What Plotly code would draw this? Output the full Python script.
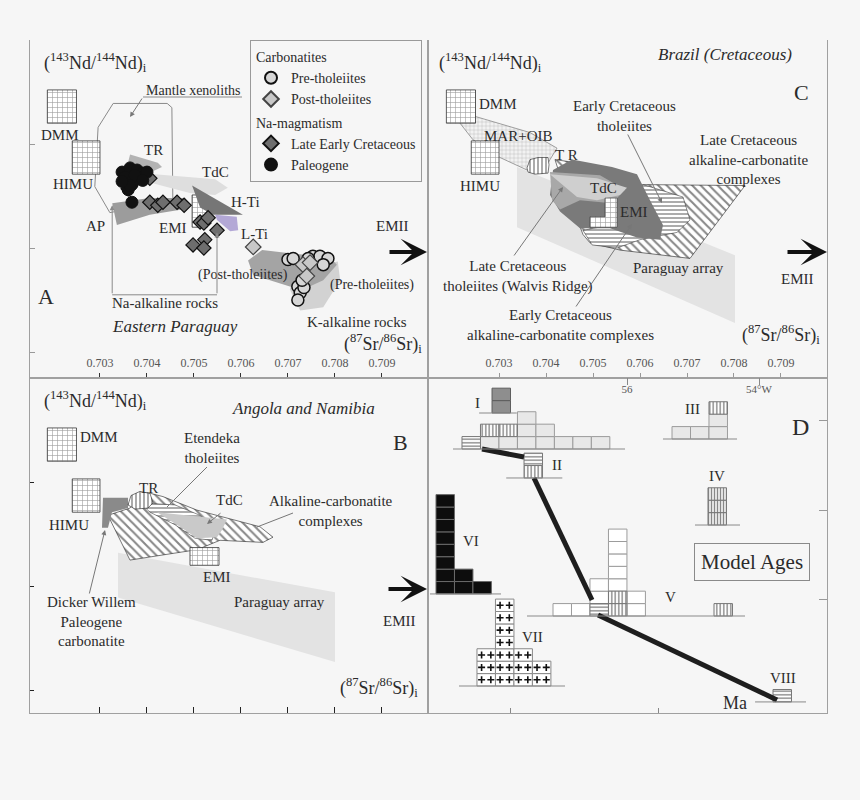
import plotly.graph_objects as go

W, H = 860, 800
SERIF = "Liberation Serif"
BG = "#f6f6f6"
INK = "#2b2b2b"

# ---------------- axis ticks ----------------
sr_ticks = [0.703, 0.704, 0.705, 0.706, 0.707, 0.708, 0.709]
sr_labels = ["0.703", "0.704", "0.705", "0.706", "0.707", "0.708", "0.709"]
nd_ticks = [0.5128, 0.5127, 0.5126]
lon_ticks = [56, 54]
lon_labels = ["56", "54°W"]
lon_minor = [57.76, 55.53]
lat_ticks = [-24, -25, -26]

# ---------------- end-member boxes (Sr range, Nd range) ----------------
dmm_sr = [0.70188, 0.70250]
dmm_nd = [0.512820, 0.512852]
himu_sr = [0.70241, 0.70300]
himu_nd = [0.512771, 0.512803]

# ---------------- Panel A : Eastern Paraguay ----------------
a_emi_sr = [0.70496, 0.70528]
a_emi_nd = [0.512720, 0.512751]
a_xeno_sr = [0.70296, 0.70328, 0.70443, 0.70453, 0.70455, 0.70321, 0.70289]
a_xeno_nd = [0.512816, 0.512839, 0.512839, 0.512835, 0.512746, 0.512734, 0.512759]
a_tr_sr = [0.70364, 0.70423, 0.70432, 0.70385, 0.70357]
a_tr_nd = [0.512790, 0.512782, 0.512778, 0.512768, 0.512777]
a_tdc_sr = [0.70385, 0.70545, 0.70572, 0.70545, 0.70491, 0.70406]
a_tdc_nd = [0.512772, 0.512766, 0.512758, 0.512751, 0.512753, 0.512763]
a_hti_sr = [0.70496, 0.70604, 0.70540, 0.70513]
a_hti_nd = [0.512760, 0.512732, 0.512732, 0.512739]
a_lti_sr = [0.70545, 0.70591, 0.70594, 0.70577, 0.70549]
a_lti_nd = [0.512732, 0.512730, 0.512717, 0.512716, 0.512727]
a_ap_sr = [0.70326, 0.70406, 0.70481, 0.70487, 0.70406, 0.70336]
a_ap_nd = [0.512743, 0.512748, 0.512748, 0.512738, 0.512732, 0.512722]
a_kdark_sr = [0.70615, 0.70645, 0.70704, 0.70789, 0.70804, 0.70775, 0.70732, 0.70704, 0.70626]
a_kdark_nd = [0.512688, 0.512698, 0.512695, 0.512691, 0.512684, 0.512669, 0.512660, 0.512663, 0.512674]
a_klight_sr = [0.70715, 0.70806, 0.70811, 0.70775, 0.70726, 0.70704]
a_klight_nd = [0.512679, 0.512687, 0.512669, 0.512643, 0.512640, 0.512660]
na_bracket_sr = [0.70326, 0.70549]
na_bracket_top = [0.512741, 0.512715]
na_bracket_base = 0.512655

pre_sr = [0.70700, 0.70711, 0.70753, 0.70768, 0.70785, 0.70775, 0.70743, 0.70721, 0.70726, 0.70721, 0.70734, 0.70730]
pre_nd = [0.512689, 0.512690, 0.512692, 0.512692, 0.512690, 0.512684, 0.512690, 0.512663, 0.512657, 0.512650, 0.512662, 0.512669]
post_sr = [0.70626, 0.70732, 0.70747, 0.70740]
post_nd = [0.512701, 0.512684, 0.512686, 0.512673]
lec_sr = [0.70406, 0.70360, 0.70406, 0.70423, 0.70434, 0.70464, 0.70479, 0.70513, 0.70521, 0.70530, 0.70549, 0.70498, 0.70523, 0.70521]
lec_nd = [0.512767, 0.512757, 0.512744, 0.512741, 0.512744, 0.512744, 0.512741, 0.512725, 0.512724, 0.512729, 0.512717, 0.512703, 0.512708, 0.512700]
pal_sr = [0.70347, 0.70364, 0.70379, 0.70391, 0.70357, 0.70370, 0.70385, 0.70400, 0.70360, 0.70368, 0.70353, 0.70374, 0.70364, 0.70368, 0.70391, 0.70347]
pal_nd = [0.512773, 0.512777, 0.512775, 0.512772, 0.512765, 0.512763, 0.512768, 0.512773, 0.512756, 0.512761, 0.512768, 0.512770, 0.512760, 0.512744, 0.512765, 0.512764]

# ---------------- Panel C : Brazil (Cretaceous) ----------------
c_mar_sr = [0.702128, 0.702532, 0.703660, 0.704234, 0.704085, 0.703936, 0.703596, 0.703021, 0.702447, 0.702170]
c_mar_nd = [0.512831, 0.512826, 0.512811, 0.512796, 0.512785, 0.512772, 0.512775, 0.512787, 0.512804, 0.512820]
c_tr_sr = [0.703596, 0.703660, 0.703830, 0.704043, 0.704064, 0.704043, 0.703766, 0.703617]
c_tr_nd = [0.512777, 0.512785, 0.512787, 0.512787, 0.512780, 0.512772, 0.512771, 0.512773]
c_par_sr = [0.703383, 0.708021, 0.708021, 0.703383]
c_par_nd = [0.512778, 0.512693, 0.512628, 0.512720]
c_lkc_sr = [0.704191, 0.704936, 0.705362, 0.706000, 0.708234, 0.707064, 0.705574, 0.704936, 0.704787, 0.704298]
c_lkc_nd = [0.512785, 0.512780, 0.512773, 0.512761, 0.512760, 0.512690, 0.512698, 0.512705, 0.512713, 0.512770]
c_ect_sr = [0.706064, 0.706915, 0.707064, 0.706787, 0.706000, 0.705511, 0.704979, 0.704787, 0.705362]
c_ect_nd = [0.512761, 0.512749, 0.512727, 0.512715, 0.512708, 0.512700, 0.512703, 0.512717, 0.512722]
c_eca_sr = [0.704149, 0.704553, 0.705404, 0.705936, 0.706213, 0.706489, 0.706426, 0.705936, 0.705362, 0.704723, 0.704298, 0.704085]
c_eca_nd = [0.512775, 0.512785, 0.512778, 0.512771, 0.512746, 0.512722, 0.512708, 0.512710, 0.512719, 0.512719, 0.512735, 0.512751]
c_wal_sr = [0.704085, 0.705149, 0.705681, 0.705404, 0.704723, 0.704298, 0.704128]
c_wal_nd = [0.512773, 0.512770, 0.512756, 0.512743, 0.512746, 0.512737, 0.512746]
c_tdc_sr = [0.704085, 0.705085, 0.705723, 0.705574, 0.705085, 0.704660]
c_tdc_nd = [0.512771, 0.512767, 0.512758, 0.512751, 0.512746, 0.512749]
c_emi_sr = [0.704936, 0.705255, 0.705255, 0.705511, 0.705511, 0.704936]
c_emi_nd = [0.512730, 0.512730, 0.512748, 0.512748, 0.512720, 0.512720]

# ---------------- Panel B : Angola and Namibia ----------------
b_par_sr = [0.703383, 0.708000, 0.708000, 0.703383]
b_par_nd = [0.512732, 0.512694, 0.512627, 0.512689]
b_alk_sr = [0.703170, 0.703638, 0.704000, 0.704340, 0.705064, 0.705766, 0.706404, 0.706681, 0.706468, 0.705553, 0.705064, 0.703638]
b_alk_nd = [0.512768, 0.512775, 0.512790, 0.512786, 0.512773, 0.512765, 0.512757, 0.512747, 0.512742, 0.512744, 0.512735, 0.512725]
b_ete_sr = [0.703851, 0.704596, 0.705128, 0.705447, 0.705383, 0.705021, 0.704596, 0.704064]
b_ete_nd = [0.512780, 0.512778, 0.512768, 0.512754, 0.512744, 0.512746, 0.512759, 0.512771]
b_tdc_sr = [0.704213, 0.705702, 0.705596, 0.705489, 0.705064, 0.704702]
b_tdc_nd = [0.512771, 0.512764, 0.512754, 0.512747, 0.512746, 0.512757]
b_dw_sr = [0.703064, 0.703596, 0.703596, 0.703255, 0.703170, 0.703043]
b_dw_nd = [0.512785, 0.512785, 0.512775, 0.512771, 0.512756, 0.512756]
b_tr_sr = [0.703596, 0.703660, 0.703851, 0.704064, 0.704128, 0.704021, 0.703745]
b_tr_nd = [0.512778, 0.512787, 0.512791, 0.512789, 0.512780, 0.512775, 0.512774]
b_emi_sr = [0.704915, 0.705532]
b_emi_nd = [0.512720, 0.512737]

# ---------------- Panel D : model-age histograms on map ----------------
hist_names = ["I", "Ia", "II", "III", "IV", "V", "Vb", "VI", "VII", "VIII"]
hist_lon = [58.50, 58.045, 57.56, 55.318, 54.773, 57.121, 54.682, 58.894, 58.273, 53.788]
hist_lat = [-24.322, -23.922, -24.644, -24.211, -25.167, -26.178, -26.178, -25.933, -26.956, -27.133]
hist_I = ["h", "gv", "gv", "ggg", "gg", "g", "g", "g"]
hist_Ia = ["dd"]
hist_II = ["vh"]
hist_III = ["g", "g", "ggv"]
hist_IV = ["VVV"]
hist_V = ["w", "w", "hww", "vvwwwww", "ww"]
hist_Vb = ["v"]
hist_VI = ["bbbbbbbb", "bb", "b"]
hist_VII = ["ppp", "ppppppp", "ppp", "pp"]
hist_VIII = ["h"]
hist_cols = [hist_I, hist_Ia, hist_II, hist_III, hist_IV, hist_V, hist_Vb, hist_VI, hist_VII, hist_VIII]
base_from = [58.636, 58.24, 57.83, 55.455, 54.97, 57.515, None, 58.985, 58.545, 54.06]
base_to = [56.03, 57.67, 56.98, 54.333, 54.288, 54.212, None, 57.909, 56.939, 53.288]
path_lon = [58.197, 57.561, None, 57.409, 56.530, None, 56.439, 53.727]
path_lat = [-24.322, -24.411, None, -24.644, -26.000, None, -26.167, -27.111]
CELL_W = 0.28
CELL_H = 0.138

# ---------------- layout geometry ----------------
xA = [30 / W, 428 / W]
xC = [428 / W, 827 / W]
yTop = [1 - 378 / H, 1 - 40 / H]
yBot = [1 - 713 / H, 1 - 378 / H]


def P(px, py):
    return px / W, 1 - py / H


fig = go.Figure()


def closed(v):
    return list(v) + [v[0]]


def poly(xs, ys, ax, color="rgba(0,0,0,0)", pattern=None, lc="rgba(0,0,0,0)", lw=0, fill=True):
    xa, ya = ax
    tr = go.Scatter(x=closed(xs), y=closed(ys), xaxis=xa, yaxis=ya, mode="lines",
                    fill="toself" if fill else "none", fillcolor=color,
                    line=dict(color=lc, width=lw), hoverinfo="skip", showlegend=False)
    if pattern:
        tr.fillpattern = pattern
    fig.add_trace(tr)


def box(sr, nd, ax, pattern):
    poly([sr[0], sr[1], sr[1], sr[0]], [nd[0], nd[0], nd[1], nd[1]], ax,
         color="white", pattern=pattern, lc="#333", lw=0.8)


DOTS = dict(shape="+", fgcolor="#333", bgcolor="white", size=5, solidity=0.22)
FINEGRID = dict(shape="+", fgcolor="#777", bgcolor="#f2f2f2", size=4, solidity=0.18)
HATCH = dict(shape="\\", fgcolor="#111", bgcolor="white", size=6, solidity=0.35)
HLINES = dict(shape="-", fgcolor="#111", bgcolor="white", size=4, solidity=0.35)
VLINES = dict(shape="|", fgcolor="#111", bgcolor="white", size=4, solidity=0.35)

AX_A = ("x", "y")
AX_C = ("x2", "y2")
AX_B = ("x3", "y3")
AX_D = ("x4", "y4")

# ----- Panel A -----
poly(a_xeno_sr, a_xeno_nd, AX_A, lc="#8a8a8a", lw=1, fill=False)
poly(a_ap_sr, a_ap_nd, AX_A, color="#9c9c9c")
poly(a_tr_sr, a_tr_nd, AX_A, color="#b3b3b3")
box(a_emi_sr, a_emi_nd, AX_A, DOTS)
poly(a_tdc_sr, a_tdc_nd, AX_A, color="#dedede")
poly(a_hti_sr, a_hti_nd, AX_A, color="#767676")
poly(a_lti_sr, a_lti_nd, AX_A, color="#b3a8d6")
poly(a_klight_sr, a_klight_nd, AX_A, color="#d2d2d2")
poly(a_kdark_sr, a_kdark_nd, AX_A, color="#a4a4a4")
box(dmm_sr, dmm_nd, AX_A, DOTS)
box(himu_sr, himu_nd, AX_A, DOTS)
fig.add_trace(go.Scatter(x=na_bracket_sr, y=[na_bracket_base, na_bracket_base], xaxis="x", yaxis="y",
                         mode="lines", line=dict(color="#8a8a8a", width=1), hoverinfo="skip", showlegend=False))

fig.add_trace(go.Scatter(x=pre_sr, y=pre_nd, xaxis="x", yaxis="y", mode="markers", name="Pre-tholeiites",
                         legendgroup="carb", legendgrouptitle=dict(text="Carbonatites", font=dict(size=14, family=SERIF, color=INK)),
                         marker=dict(symbol="circle", size=12, color="#d6d6d6", line=dict(color="#111", width=1.5))))
fig.add_trace(go.Scatter(x=post_sr, y=post_nd, xaxis="x", yaxis="y", mode="markers", name="Post-tholeiites",
                         legendgroup="carb",
                         marker=dict(symbol="diamond", size=12, color="#c8c8c8", line=dict(color="#444", width=1.2))))
fig.add_trace(go.Scatter(x=lec_sr, y=lec_nd, xaxis="x", yaxis="y", mode="markers", name="Late Early Cretaceous",
                         legendgroup="na", legendgrouptitle=dict(text="Na-magmatism", font=dict(size=14, family=SERIF, color=INK)),
                         marker=dict(symbol="diamond", size=11, color="#6e6e6e", line=dict(color="#111", width=1.2))))
fig.add_trace(go.Scatter(x=pal_sr, y=pal_nd, xaxis="x", yaxis="y", mode="markers", name="Paleogene",
                         legendgroup="na",
                         marker=dict(symbol="circle", size=12, color="#111", line=dict(color="#111", width=1))))

# ----- Panel C -----
poly(c_par_sr, c_par_nd, AX_C, color="#e3e3e3")
poly(c_mar_sr, c_mar_nd, AX_C, pattern=FINEGRID, lc="#666", lw=0.6)
poly(c_lkc_sr, c_lkc_nd, AX_C, pattern=HATCH, lc="#222", lw=0.6)
poly(c_ect_sr, c_ect_nd, AX_C, pattern=HLINES, lc="#222", lw=0.5)
poly(c_eca_sr, c_eca_nd, AX_C, color="#7a7a7a")
poly(c_wal_sr, c_wal_nd, AX_C, color="#a8a8a8")
poly(c_tdc_sr, c_tdc_nd, AX_C, color="#cfcfcf")
poly(c_emi_sr, c_emi_nd, AX_C, color="white", pattern=DOTS, lc="#333", lw=0.6)
poly(c_tr_sr, c_tr_nd, AX_C, pattern=VLINES, lc="#222", lw=0.6)
box(dmm_sr, dmm_nd, AX_C, DOTS)
box(himu_sr, himu_nd, AX_C, DOTS)

# ----- Panel B -----
poly(b_par_sr, b_par_nd, AX_B, color="#e3e3e3")
poly(b_alk_sr, b_alk_nd, AX_B, pattern=HATCH, lc="#222", lw=0.6)
poly(b_ete_sr, b_ete_nd, AX_B, pattern=HLINES, lc="#222", lw=0.5)
poly(b_tdc_sr, b_tdc_nd, AX_B, color="#c9c9c9")
poly(b_dw_sr, b_dw_nd, AX_B, color="#8a8a8a")
poly(b_tr_sr, b_tr_nd, AX_B, pattern=VLINES, lc="#222", lw=0.6)
box(b_emi_sr, b_emi_nd, AX_B, DOTS)
box(dmm_sr, dmm_nd, AX_B, DOTS)
box(himu_sr, himu_nd, AX_B, DOTS)

# ----- Panel D -----
fig.add_trace(go.Scatter(x=path_lon, y=path_lat, xaxis="x4", yaxis="y4", mode="lines",
                         line=dict(color="#1e1e1e", width=5), hoverinfo="skip", showlegend=False))

bl_x, bl_y = [], []
for f, t, la in zip(base_from, base_to, hist_lat):
    if f is None:
        continue
    bl_x += [f, t, None]
    bl_y += [la, la, None]
fig.add_trace(go.Scatter(x=bl_x, y=bl_y, xaxis="x4", yaxis="y4", mode="lines",
                         line=dict(color="#8a8a8a", width=1), hoverinfo="skip", showlegend=False))

styles = {
    "g": dict(color="#e8e8e8", line=dict(color="#9c9c9c", width=1)),
    "d": dict(color="#8e8e8e", line=dict(color="#5e5e5e", width=1)),
    "w": dict(color="white", line=dict(color="#9c9c9c", width=1)),
    "b": dict(color="#0d0d0d", line=dict(color="#6a6a6a", width=1)),
    "h": dict(color="white", line=dict(color="#777", width=1),
              pattern=dict(shape="-", fgcolor="#111", bgcolor="white", size=3.5, solidity=0.4)),
    "v": dict(color="white", line=dict(color="#777", width=1),
              pattern=dict(shape="|", fgcolor="#111", bgcolor="white", size=3.5, solidity=0.4)),
    "V": dict(color="white", line=dict(color="#777", width=1),
              pattern=dict(shape="|", fgcolor="#111", bgcolor="white", size=3, solidity=0.5)),
    "p": dict(color="white", line=dict(color="#888", width=1)),
}
cells = {k: ([], [], []) for k in styles}
cross_x, cross_y = [], []
for lon0, lat0, cols in zip(hist_lon, hist_lat, hist_cols):
    for i, col in enumerate(cols):
        cx = lon0 - (i + 0.5) * CELL_W
        for k, code in enumerate(col):
            b = lat0 + k * CELL_H
            cells[code][0].append(cx)
            cells[code][1].append(CELL_H)
            cells[code][2].append(b)
            if code == "p":
                cross_x += [cx + CELL_W / 4, cx - CELL_W / 4]
                cross_y += [b + CELL_H / 2, b + CELL_H / 2]
for code, (xs, hs, bs) in cells.items():
    if xs:
        fig.add_trace(go.Bar(x=xs, y=hs, base=bs, width=CELL_W, xaxis="x4", yaxis="y4",
                             marker=styles[code], hoverinfo="skip", showlegend=False))
fig.add_trace(go.Scatter(x=cross_x, y=cross_y, xaxis="x4", yaxis="y4", mode="markers",
                         marker=dict(symbol="cross-thin", size=5, line=dict(color="#111", width=1.6)),
                         hoverinfo="skip", showlegend=False))
# invisible anchor trace so the bottom tick axis of panel D is drawn
fig.add_trace(go.Scatter(x=lon_minor, y=[-27.2, -27.2], xaxis="x5", yaxis="y4", mode="markers",
                         marker=dict(opacity=0, size=1), hoverinfo="skip", showlegend=False))

# ---------------- annotations ----------------
ann = []
shapes = []


def label(px, py, text, size=15, xanchor="center", color=INK, **kw):
    x, y = P(px, py)
    ann.append(dict(x=x, y=y, xref="paper", yref="paper", text=text, showarrow=False,
                    xanchor=xanchor, yanchor="middle", font=dict(family=SERIF, size=size, color=color), **kw))


def leader(tx, ty, hx, hy, head=2, color="#777", width=1, size=1.0):
    if head == 0:
        x0, y0 = P(tx, ty)
        x1, y1 = P(hx, hy)
        shapes.append(dict(type="line", xref="paper", yref="paper", x0=x0, y0=y0, x1=x1, y1=y1,
                           line=dict(color=color, width=width)))
        return
    x, y = P(hx, hy)
    ann.append(dict(x=x, y=y, xref="paper", yref="paper", ax=tx - hx, ay=ty - hy, text="",
                    showarrow=True, arrowhead=head, arrowsize=size, arrowwidth=width, arrowcolor=color))


ND = "(<sup>143</sup>Nd/<sup>144</sup>Nd)<sub>i</sub>"
SR = "(<sup>87</sup>Sr/<sup>86</sup>Sr)<sub>i</sub>"

# Panel A text
label(42, 62, ND, 18, "left")
label(424, 344, SR, 18, "right")
label(60, 135, "DMM")
label(73, 184, "HIMU")
label(153, 150, "TR")
label(215, 172, "TdC")
label(246, 202, "H-Ti")
label(95, 226, "AP")
label(173, 228, "EMI")
label(254, 234, "L-Ti")
label(392, 226, "EMII")
label(243, 275, "(Post-tholeiites)", 14)
label(372, 285, "(Pre-tholeiites)", 14)
label(357, 322, "K-alkaline rocks")
label(165, 303, "Na-alkaline rocks")
label(175, 327, "<i>Eastern Paraguay</i>", 17)
label(46, 296, "A", 22)
label(193, 90, "Mantle xenoliths", 14)
leader(143, 97, 130, 117)
leader(143, 97, 242, 97, head=0, color="#8a8a8a")
leader(388, 252, 427, 252, head=3, color="#111", width=4, size=1.1)
# Na-alkaline bracket arrows (data coordinates)
for sx, top in zip(na_bracket_sr, na_bracket_top):
    ann.append(dict(x=sx, y=top, xref="x", yref="y", ax=sx, ay=na_bracket_base, axref="x", ayref="y",
                    text="", showarrow=True, arrowhead=2, arrowsize=1, arrowwidth=1, arrowcolor="#8a8a8a"))

# Panel C text
label(437, 62, ND, 18, "left")
label(822, 335, SR, 18, "right")
label(477, 104, "DMM", xanchor="left")
label(480, 186, "HIMU")
label(518, 136, "MAR+OIB")
label(566, 155, "T R")
label(603, 188, "TdC")
label(634, 212, "EMI")
label(725, 55, "<i>Brazil (Cretaceous)</i>", 17)
label(801, 93, "C", 22)
label(624, 116, "Early Cretaceous<br>tholeiites")
label(748, 159, "Late Cretaceous<br>alkaline-carbonatite<br>complexes")
label(518, 276, "Late Cretaceous<br>tholeiites (Walvis Ridge)")
label(678, 268, "Paraguay array")
label(797, 279, "EMII")
label(560, 325, "Early Cretaceous<br>alkaline-carbonatite complexes")
leader(627, 133, 662, 203, head=2)
leader(513, 257, 563, 187, head=2)
leader(575, 308, 632, 224, head=2)
leader(786, 252, 827, 252, head=3, color="#111", width=4, size=1.1)

# Panel B text
label(42, 400, ND, 18, "left")
label(420, 687, SR, 18, "right")
label(78, 437, "DMM", xanchor="left")
label(69, 525, "HIMU")
label(148, 488, "TR")
label(230, 500, "TdC")
label(212, 448, "Etendeka<br>tholeiites")
label(331, 511, "Alkaline-carbonatite<br>complexes")
label(217, 577, "EMI")
label(279, 602, "Paraguay array")
label(91, 621, "Dicker Willem<br>Paleogene<br>carbonatite")
label(303, 408, "<i>Angola and Namibia</i>", 17)
label(400, 442, "B", 22)
label(399, 621, "EMII")
leader(207, 467, 167, 507, head=0)
leader(222, 512, 207, 524, head=2)
leader(293, 513, 257, 527, head=0)
leader(89, 595, 105, 530, head=2)
leader(387, 589, 427, 589, head=3, color="#111", width=4, size=1.1)

# Panel D text
label(477, 403, "I", 15)
label(557, 465, "II", 15)
label(692, 409, "III", 15)
label(717, 476, "IV", 15)
label(670, 597, "V", 15)
label(471, 541, "VI", 15)
label(532, 637, "VII", 15)
label(783, 678, "VIII", 15)
label(735, 703, "Ma", 18)
label(800, 427, "D", 24)
label(752, 562, "Model Ages", 21, bordercolor="#8a8a8a", borderwidth=1, borderpad=6)

TICKFONT = dict(family=SERIF, size=12, color="#555")
LINE = "#a0a0a0"

common = dict(showgrid=False, zeroline=False, showline=True, linecolor=LINE, linewidth=1)

fig.update_layout(
    width=W, height=H,
    margin=dict(l=0, r=0, t=0, b=0),
    paper_bgcolor=BG, plot_bgcolor=BG,
    barmode="overlay",
    showlegend=True,
    legend=dict(x=250 / W, y=1 - 40 / H, xanchor="left", yanchor="top",
                bgcolor="rgba(0,0,0,0)", bordercolor="#9a9a9a", borderwidth=1,
                font=dict(family=SERIF, size=14, color=INK), traceorder="grouped",
                tracegroupgap=2, itemsizing="constant"),
    xaxis=dict(domain=xA, range=[0.701511, 0.709979], anchor="y", tickvals=sr_ticks, ticktext=sr_labels,
               ticks="inside", ticklen=5, tickcolor="#333", ticklabelposition="inside", ticklabelstandoff=3,
               tickfont=TICKFONT, **common),
    yaxis=dict(domain=yTop, range=[0.512575, 0.5129], anchor="x", tickvals=nd_ticks, ticks="inside", ticklen=5,
               tickcolor="#999", showticklabels=False, mirror=True, **common),
    xaxis2=dict(domain=xC, range=[0.701489, 0.709979], anchor="y2", tickvals=sr_ticks, ticktext=sr_labels,
                ticks="inside", ticklen=5, tickcolor="#999", ticklabelposition="inside", ticklabelstandoff=3,
                tickfont=TICKFONT, **common),
    yaxis2=dict(domain=yTop, range=[0.512575, 0.5129], anchor="x2", showticklabels=False, mirror=True, **common),
    xaxis3=dict(domain=xA, range=[0.701511, 0.709979], anchor="y3", tickvals=sr_ticks, ticks="inside", ticklen=6,
                tickcolor="#222", showticklabels=False, mirror=True, **common),
    yaxis3=dict(domain=yBot, range=[0.512578, 0.5129], anchor="x3", tickvals=nd_ticks, ticks="inside", ticklen=4,
                tickcolor="#222", showticklabels=False, mirror=True, **common),
    xaxis4=dict(domain=xC, range=[59.015, 52.970], anchor="y4", side="top", tickvals=lon_ticks, ticktext=lon_labels,
                ticks="inside", ticklen=7, tickcolor="#888", ticklabelposition="inside",
                tickfont=dict(family=SERIF, size=11, color="#555"), mirror=True, **common),
    xaxis5=dict(overlaying="x4", range=[59.015, 52.970], anchor="y4", side="bottom", tickvals=lon_minor,
                ticks="inside", ticklen=5, tickcolor="#888", showticklabels=False, showgrid=False,
                zeroline=False, showline=False),
    yaxis4=dict(domain=yBot, range=[-27.256, -23.533], anchor="x4", side="right", tickvals=lat_ticks,
                ticks="inside", ticklen=8, tickcolor="#999", showticklabels=False, mirror=True, **common),
    annotations=ann,
    shapes=shapes,
)

fig.write_html("out.html", config={"displayModeBar": False},
               post_script=["document.body.style.margin='0px';"])
